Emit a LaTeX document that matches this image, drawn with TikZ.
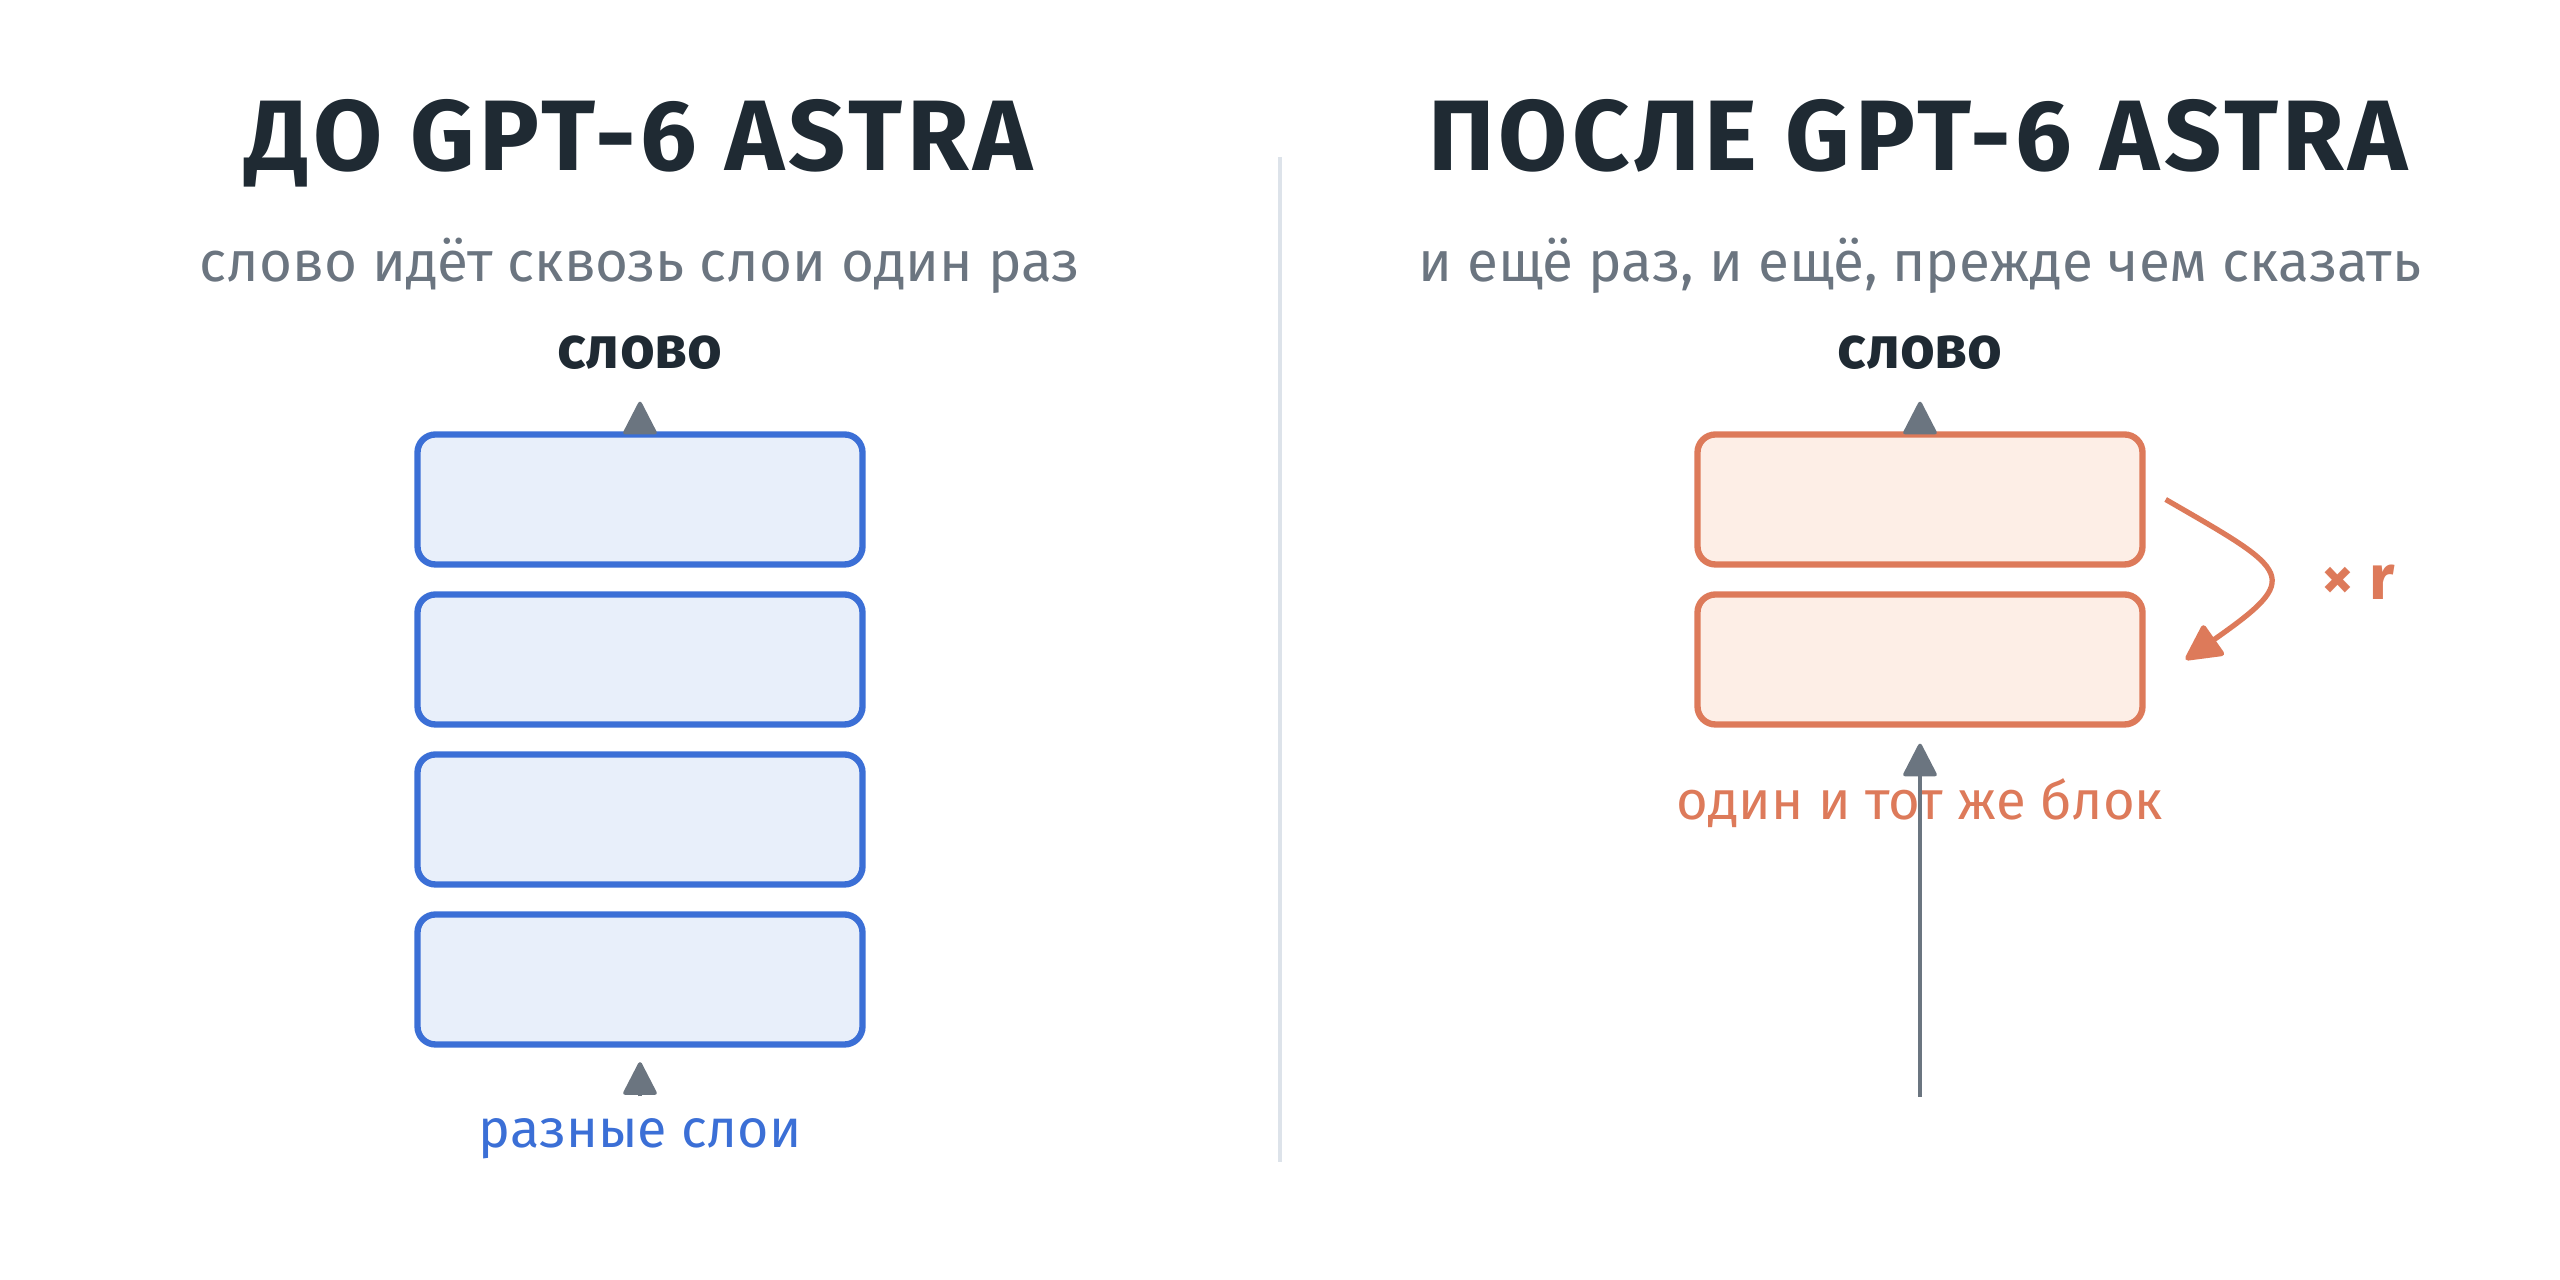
\documentclass[tikz,border=0pt]{standalone}
\usepackage{fontspec}
\setmainfont{Fira Sans}
\usetikzlibrary{arrows.meta}
\definecolor{ink}{HTML}{1F2A33}
\definecolor{muted}{HTML}{6B7580}
\definecolor{bluestroke}{HTML}{3B6FD6}
\definecolor{bluefill}{HTML}{E8EFFA}
\definecolor{orstroke}{HTML}{DD7A5A}
\definecolor{orfill}{HTML}{FDEEE6}
\definecolor{divider}{HTML}{DDE3EA}
\begin{document}
\begin{tikzpicture}[
    title/.style={anchor=base,inner sep=0pt,text=ink,font=\bfseries\fontsize{28.5}{32}\selectfont\addfontfeatures{LetterSpace=4.5}},
    subtitle/.style={anchor=base,inner sep=0pt,text=muted,font=\fontsize{16.1}{19}\selectfont},
    word/.style={anchor=base,inner sep=0pt,text=ink,font=\bfseries\fontsize{17}{20}\selectfont},
    layer/.style={draw=bluestroke,fill=bluefill,line width=1.8pt,rounded corners=0.18cm,
        minimum width=4.45cm,minimum height=1.3cm,inner sep=0pt},
    block/.style={layer,draw=orstroke,fill=orfill},
    arr/.style={muted,line width=1.1pt,-{Triangle[length=10pt,width=10pt,round]}},
    looparr/.style={orstroke,line width=1.5pt,-{Triangle[length=11pt,width=11pt,round]}}
]
    \useasboundingbox (0,0) rectangle (25.6,12.8);
    % left half
    \node[title] (tl) at (6.39,11.09) {ДО GPT-6 ASTRA};
    \node[subtitle] (sl) at (6.40,9.98) {слово идёт сквозь слои один раз};
    \node[word] (wl) at (6.40,9.11) {слово};
    \node[layer] (l1) at (6.40,7.805) {};
    \node[layer] (l2) at (6.40,6.205) {};
    \node[layer] (l3) at (6.40,4.605) {};
    \node[layer] (l4) at (6.40,3.005) {};
    \node[anchor=base,inner sep=0pt,text=bluestroke,font=\fontsize{15.3}{18}\selectfont] (ll) at (6.40,1.32) {разные слои};
    \draw[arr,shorten >=0.31cm] (l1.north) -- (wl.south);
    \draw[arr,shorten <=0.22cm,shorten >=0.145cm] (ll.north) -- (l4.south);
    % divider
    \coordinate (dtop) at (12.80,11.23);
    \coordinate (dbot) at (12.80,1.18);
    \draw[divider,line width=1.3pt] (dtop) -- (dbot);
    % right half
    \node[title] (tr) at (19.18,11.09) {ПОСЛЕ GPT-6 ASTRA};
    \node[subtitle] (sr) at (19.20,9.98) {и ещё раз, и ещё, прежде чем сказать};
    \node[word] (wr) at (19.20,9.11) {слово};
    \node[block] (a1) at (19.20,7.805) {};
    \node[block] (a2) at (19.20,6.205) {};
    \node[anchor=base,inner sep=0pt,text=orstroke,font=\fontsize{15.5}{18}\selectfont] (lr) at (19.20,4.60) {один и тот же блок};
    \node[anchor=base,inner sep=0pt,text=orstroke,font=\bfseries\fontsize{18}{21}\selectfont] (xr) at (23.58,6.80) {× r};
    \coordinate (inp) at (19.20,1.83);
    \draw[arr,shorten >=0.31cm] (a1.north) -- (wr.south);
    \draw[arr,shorten >=0.16cm] (inp) -- (a2.south);
    \draw[looparr] ([xshift=2mm]a1.east) to[out=-30,in=35,looseness=2.3] ([xshift=4mm]a2.east);
\end{tikzpicture}
\end{document}
